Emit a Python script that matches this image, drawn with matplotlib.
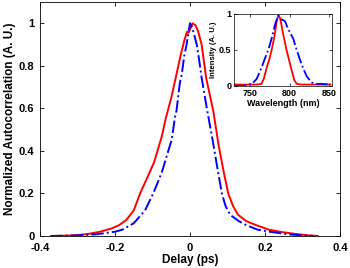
import matplotlib
matplotlib.use("Agg")
import matplotlib.pyplot as plt

plt.rcParams['font.family'] = ['Liberation Sans', 'DejaVu Sans']

# Main autocorrelation traces
red_delay = [-0.365, -0.33, -0.30, -0.27, -0.24, -0.21, -0.19, -0.17, -0.15, -0.133, -0.11,
             -0.095, -0.085, -0.075, -0.065, -0.05, -0.036, -0.025, -0.015, -0.008, -0.004, 0.0,
             0.007, 0.015, 0.022, 0.031, 0.043, 0.052, 0.062, 0.076, 0.09, 0.102, 0.115,
             0.128, 0.15, 0.178, 0.21, 0.24, 0.28, 0.31, 0.341]
red_ac = [0.0, 0.002, 0.004, 0.01, 0.02, 0.035, 0.05, 0.075, 0.12, 0.2, 0.29,
          0.35, 0.41, 0.47, 0.55, 0.65, 0.76, 0.85, 0.92, 0.96, 0.955, 0.97,
          1.0, 0.99, 0.96, 0.9, 0.744, 0.67, 0.589, 0.43, 0.3, 0.2, 0.14,
          0.1, 0.07, 0.05, 0.03, 0.02, 0.01, 0.004, 0.0]

blue_delay = [-0.373, -0.33, -0.30, -0.25, -0.2, -0.18, -0.15, -0.12, -0.098, -0.075,
              -0.058, -0.049, -0.04, -0.036, -0.027, -0.022, -0.015, -0.009, -0.004,
              0.0, 0.006, 0.012, 0.018, 0.025, 0.031, 0.046, 0.062, 0.072, 0.085, 0.095,
              0.107, 0.13, 0.151, 0.18, 0.213, 0.26, 0.3, 0.328]
blue_ac = [0.0, 0.001, 0.003, 0.008, 0.02, 0.03, 0.06, 0.12, 0.2, 0.3,
           0.4, 0.45, 0.56, 0.589, 0.72, 0.76, 0.85, 0.9, 0.96,
           1.0, 0.98, 0.94, 0.9, 0.82, 0.744, 0.589, 0.434, 0.33, 0.2, 0.14,
           0.1, 0.07, 0.05, 0.03, 0.02, 0.008, 0.003, 0.0]

# Inset spectra
red_wl = [730, 740, 750, 758, 764, 767, 770.6, 774, 777, 779.5, 781.6, 783.5, 785.5,
          787.5, 789, 791, 793.5, 796, 799, 802.5, 806, 809, 815, 825, 835, 845, 852]
red_int = [0.02, 0.02, 0.02, 0.02, 0.03, 0.1, 0.25, 0.37, 0.5, 0.63, 0.76, 0.9, 0.98,
           0.95, 0.88, 0.76, 0.63, 0.5, 0.37, 0.22, 0.08, 0.03, 0.02, 0.02, 0.02, 0.02, 0.02]

blue_wl = [730, 740, 747, 752, 758, 764, 768, 772.7, 776, 779, 782, 785.5, 789, 794,
           797, 800, 804.5, 809, 813, 817, 822, 828, 834, 840, 852]
blue_int = [0.0, 0.0, 0.02, 0.03, 0.1, 0.25, 0.37, 0.5, 0.62, 0.75, 0.88, 0.98, 0.93, 0.9,
            0.82, 0.75, 0.66, 0.5, 0.37, 0.25, 0.13, 0.05, 0.03, 0.03, 0.02]

main_xticks = [-0.4, -0.2, 0, 0.2, 0.4]
main_xticklabels = ['-0.4', '-0.2', '0', '0.2', '0.4']
main_yticks = [0, 0.2, 0.4, 0.6, 0.8, 1]
main_yticklabels = ['0', '0.2', '0.4', '0.6', '0.8', '1']
inset_xticks = [750, 800, 850]
inset_yticks = [0, 0.5, 1]
inset_yticklabels = ['0', '0.5', '1']

fig = plt.figure(figsize=(3.5, 2.68), dpi=100)
ax = fig.add_axes([40/350, 1-236/268, 300/350, 234/268])
ax.plot(red_delay, red_ac, color='#ff0000', lw=1.4)
ax.plot(blue_delay, blue_ac, color='#0000ff', lw=1.4, ls='-.')
ax.set_xlim(-0.4, 0.4)
ax.set_ylim(0, 1.1)
ax.set_xticks(main_xticks)
ax.set_xticklabels(main_xticklabels)
ax.set_yticks(main_yticks)
ax.set_yticklabels(main_yticklabels)
ax.tick_params(direction='in', top=True, right=True, labelsize=8, length=3, width=0.6)
ax.tick_params(axis='x', pad=5)
ax.tick_params(axis='y', pad=4)
for lab in ax.get_xticklabels() + ax.get_yticklabels():
    lab.set_fontweight('bold')
ax.set_xlabel('Delay (ps)', fontsize=8.5, fontweight='bold', labelpad=1)
ax.set_ylabel('Normalized Autocorrelation (A. U.)', fontsize=8.5, fontweight='bold', labelpad=2)
for s in ax.spines.values():
    s.set_linewidth(0.6)

ins = fig.add_axes([234/350, 1-86/268, 98/350, 72/268])
ins.plot(red_wl, red_int, color='#ff0000', lw=1.3)
ins.plot(blue_wl, blue_int, color='#0000ff', lw=1.3, ls='-.')
ins.set_xlim(729, 854)
ins.set_ylim(0, 1)
ins.set_xticks(inset_xticks)
ins.set_yticks(inset_yticks)
ins.set_yticklabels(inset_yticklabels)
ins.tick_params(direction='in', top=True, right=True, labelsize=6.5, length=2, width=0.5, pad=2)
for lab in ins.get_xticklabels() + ins.get_yticklabels():
    lab.set_fontweight('bold')
ins.set_xlabel('Wavelength (nm)', fontsize=6.5, fontweight='bold', labelpad=1)
ins.set_ylabel('Intensity (A. U.)', fontsize=5.5, fontweight='bold', labelpad=1)
for s in ins.spines.values():
    s.set_linewidth(0.5)

fig.savefig('out.png', dpi=100)
